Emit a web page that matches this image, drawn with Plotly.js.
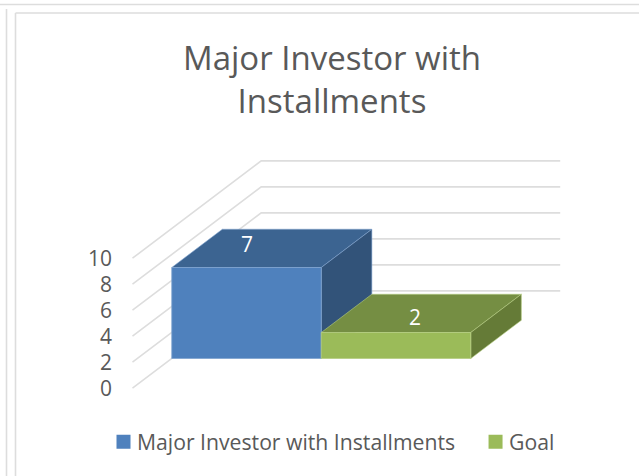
<!DOCTYPE html>
<html><head><meta charset="utf-8">
<script src="https://cdn.plot.ly/plotly-3.0.1.min.js"></script>
<style>html,body{margin:0;padding:0;background:#fff}</style>
</head><body><div id="chart" style="width:639px;height:476px"></div>
<script>
const seriesNames = ["Major Investor with Installments", "Goal"];
const seriesValues = [7, 2];
const gridValues = [0, 2, 4, 6, 8, 10];
const frontColors = ["#4F81BD", "#9BBB59"];
const topColors = ["#3C6491", "#758E43"];
const sideColors = ["#325379", "#657B37"];
const edgeColors = ["#7FA3CF", "#B5CD82"];

// Oblique projection: category, value, depth -> axis units
const skewX = 0.861, skewY = 7.49;
const depthStart = 0.305, depthEnd = 0.698;
const proj = (c, v, d) => [c + d * skewX, v + d * skewY];
function poly(pts, fill, edge, width) {
  const p = pts.map(q => proj(q[0], q[1], q[2]));
  p.push(p[0]);
  return {type: "scatter", mode: "lines", x: p.map(q => q[0]), y: p.map(q => q[1]),
    fill: "toself", fillcolor: fill, line: {color: edge, width: width},
    showlegend: false, hoverinfo: "skip"};
}
const traces = [];
gridValues.forEach(v => {
  const a = proj(0, v, 0), b = proj(0, v, 1), e = proj(2, v, 1);
  traces.push({type: "scatter", mode: "lines", x: [a[0], b[0], e[0]], y: [a[1], b[1], e[1]],
    line: {color: "#DDDDDD", width: 1.6}, showlegend: false, hoverinfo: "skip"});
});
seriesValues.forEach((v, i) => {
  const c0 = i, c1 = i + 1, d0 = depthStart, d1 = depthEnd;
  traces.push(poly([[c0,v,d0],[c1,v,d0],[c1,v,d1],[c0,v,d1]], topColors[i], edgeColors[i], 0.6));
  traces.push(poly([[c1,0,d0],[c1,v,d0],[c1,v,d1],[c1,0,d1]], sideColors[i], edgeColors[i], 0.6));
  traces.push(poly([[c0,0,d0],[c1,0,d0],[c1,v,d0],[c0,v,d0]], frontColors[i], edgeColors[i], 0.8));
});
seriesNames.forEach((n, i) => traces.push({type: "scatter", mode: "markers", x: [null], y: [null], name: n,
  marker: {symbol: "square", size: 14, color: frontColors[i]}, hoverinfo: "skip"}));

const font = "'Open Sans', sans-serif";
const frame = (x0, y0, x1, y1) => ({type: "line", xref: "paper", yref: "paper",
  x0: x0 / 639, x1: x1 / 639, y0: 1 - y0 / 476, y1: 1 - y1 / 476,
  line: {color: "#DDDDDD", width: 1.6}, layer: "below"});

const layout = {
  width: 639, height: 476, margin: {l: 0, r: 0, t: 0, b: 0},
  paper_bgcolor: "#fff", plot_bgcolor: "rgba(0,0,0,0)",
  title: {text: "Major Investor with<br>Installments", x: 332 / 639, xanchor: "center",
    y: 1 - 70 / 476, yanchor: "top", font: {family: font, size: 33, color: "#595959"}},
  xaxis: {range: [-132.5 / 149.5, (639 - 132.5) / 149.5], visible: false, fixedrange: true},
  yaxis: {range: [(388.2 - 476) / 13, 388.2 / 13], anchor: "free", position: 112 / 639,
    tickmode: "array", tickvals: gridValues, ticktext: gridValues.map(String), showgrid: false,
    zeroline: false, showline: false, ticks: "", fixedrange: true,
    tickfont: {family: font, size: 21, color: "#595959"}},
  legend: {orientation: "h", x: 88 / 639, xanchor: "left", y: 1 - 442 / 476, yanchor: "middle",
    itemwidth: 39, font: {family: font, size: 21.2, color: "#595959"}, bgcolor: "rgba(0,0,0,0)"},
  shapes: [frame(0, 4.5, 639, 4.5), frame(6.5, 9, 6.5, 476), frame(15.5, 13, 639, 13), frame(15.5, 13, 15.5, 476)],
  annotations: seriesValues.map((v, i) => {
    const p = proj(i + 0.5, v, 0.5);
    return {x: p[0], y: p[1], text: String(v), showarrow: false, xshift: i === 0 ? -25 : -6, yshift: i === 0 ? 5 : -3,
      font: {family: font, size: 21, color: "#FFFFFF"}};
  })
};
Plotly.newPlot("chart", traces, layout, {displayModeBar: false, staticPlot: true}).then(() => {
  document.querySelectorAll(".legendsymbols").forEach(s => s.setAttribute("transform", "translate(11,0)"));
});
</script></body></html>
